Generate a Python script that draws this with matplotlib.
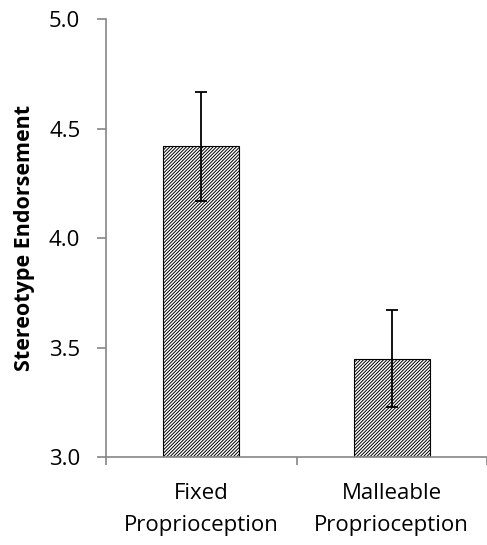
"""Stereotype endorsement bar chart with error bars."""

import matplotlib

matplotlib.use("Agg")
import matplotlib.pyplot as plt

categories = ["Fixed\nProprioception", "Malleable\nProprioception"]
means = [4.42, 3.45]
errors = [0.25, 0.22]
y_ticks = [3.0, 3.5, 4.0, 4.5, 5.0]

AXIS_GRAY = "#868686"

plt.rcParams["font.family"] = ["Open Sans", "DejaVu Sans"]
plt.rcParams["hatch.linewidth"] = 0.7
plt.rcParams["hatch.color"] = "#7a7a7a"

fig = plt.figure(figsize=(4.87, 5.45), dpi=100)
ax = fig.add_axes([0.2177, 0.1615, 0.7823, 0.8031])

x = list(range(len(categories)))
ax.bar(x, [m - 3.0 for m in means], bottom=3.0, width=0.40, color="white",
       edgecolor="black", linewidth=0.8, hatch="/" * 10, zorder=2)
ax.errorbar(x, means, yerr=errors, fmt="none", ecolor="black", elinewidth=1.3,
            capsize=4.5, capthick=1.3, zorder=3)

ax.set_xlim(-0.5, 1.5)
ax.set_ylim(3.0, 5.0)
ax.set_yticks(y_ticks)
ax.set_yticklabels([f"{t:.1f}" for t in y_ticks], fontsize=16)
ax.set_xticks([-0.5, 0.5, 1.5])
ax.set_xticklabels([])
ax.set_xticks(x, minor=True)
ax.set_xticklabels(categories, minor=True, fontsize=16, linespacing=1.65)
ax.tick_params(axis="x", which="minor", length=0, pad=19)
ax.tick_params(axis="x", which="major", length=6, width=1.2, color=AXIS_GRAY, direction="out")
ax.tick_params(axis="y", length=6.5, width=1.2, color=AXIS_GRAY, direction="out", pad=12)

for side in ("top", "right"):
    ax.spines[side].set_visible(False)
for side in ("left", "bottom"):
    ax.spines[side].set_color(AXIS_GRAY)
    ax.spines[side].set_linewidth(1.2)

ax.set_ylabel("Stereotype Endorsement", fontsize=15.5, fontweight="bold", labelpad=10)

fig.savefig("out.png", dpi=100)
